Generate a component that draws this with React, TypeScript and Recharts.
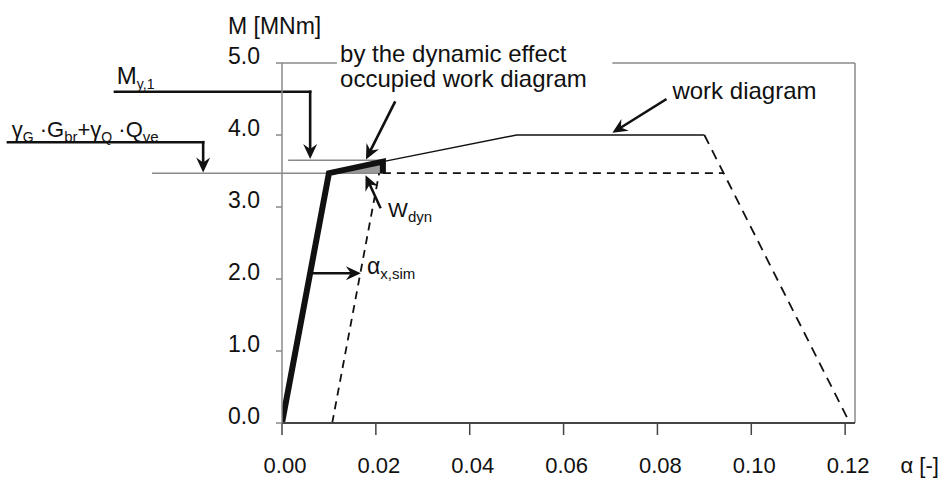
import React from "react";
import {
  ComposedChart,
  Line,
  Area,
  XAxis,
  YAxis,
  ReferenceLine,
  ReferenceDot,
} from "recharts";

const FONT = "'Liberation Sans', Arial, Helvetica, sans-serif";
const INK = "#111";
const GREY = "#8a8a8a";

// axes
const xTicks = [0, 0.02, 0.04, 0.06, 0.08, 0.1, 0.12];
const yTicks = [0, 1, 2, 3, 4, 5];
const X_MAX = 0.1221;
const Y_MAX = 5;

// moment levels
const M_DESIGN = 3.47; // γG·Gbr + γQ·Qve
const M_Y1 = 3.65;

// work diagram (M over α)
const workDiagram = [
  { x: 0, y: 0 },
  { x: 0.01, y: 3.47 },
  { x: 0.0215, y: 3.63 },
  { x: 0.05, y: 4.0 },
  { x: 0.09, y: 4.0 },
];
const softening = [
  { x: 0.09, y: 4.0 },
  { x: 0.121, y: 0 },
];
const designPlateau = [
  { x: 0.0215, y: 3.47 },
  { x: 0.0941, y: 3.47 },
];
const unloading = [
  { x: 0.0107, y: 0 },
  { x: 0.0207, y: 3.47 },
];
// part occupied by the dynamic effect
const dynamicPath = [
  { x: 0, y: 0 },
  { x: 0.01, y: 3.47 },
  { x: 0.0215, y: 3.63 },
  { x: 0.0215, y: 3.47 },
];
const wDyn = [
  { x: 0.01, y: 3.47 },
  { x: 0.0215, y: 3.63 },
];

// thin grey construction lines
const greyLines = [
  { id: "top1", from: [0, Y_MAX], to: [0.0117, Y_MAX] },
  { id: "top2", from: [0.0704, Y_MAX], to: [X_MAX, Y_MAX] },
  { id: "right", from: [X_MAX, 0], to: [X_MAX, Y_MAX] },
  { id: "mdes", from: [-0.0277, M_DESIGN], to: [0.0215, M_DESIGN] },
  { id: "my1", from: [0.0013, M_Y1], to: [0.0215, M_Y1] },
];

// leader arrows, last point is the tip
const leaders = [
  { id: "my1", pts: [[-0.0356, 4.6], [0.006, 4.6], [0.006, 3.665]] },
  { id: "gq", pts: [[-0.0584, 3.9], [-0.0168, 3.9], [-0.0168, 3.48]] },
  { id: "dyn", pts: [[0.024, 4.45], [0.0179, 3.66]] },
  { id: "work", pts: [[0.0817, 4.49], [0.0704, 4.03]] },
  { id: "wdyn", pts: [[0.0209, 3.0], [0.0178, 3.44]] },
  { id: "alpha", pts: [[0.0064, 2.08], [0.0168, 2.08]] },
];

type Part = { t: string; size: number; sub?: boolean };
const labels: { id: string; x: number; y: number; parts: Part[] }[] = [
  { id: "yunit", x: -0.01151, y: 5.403, parts: [{ t: "M [MNm]", size: 23 }] },
  { id: "xunit", x: 0.1318, y: -0.7, parts: [{ t: "α [-]", size: 22 }] },
  { id: "my1", x: -0.0352, y: 4.71, parts: [{ t: "M", size: 24 }, { t: "y,1", size: 14, sub: true }] },
  {
    id: "gq", x: -0.0576, y: 3.972,
    parts: [
      { t: "γ", size: 22 }, { t: "G", size: 14, sub: true }, { t: " ·", size: 22 },
      { t: "G", size: 22 }, { t: "br", size: 15, sub: true }, { t: "+", size: 22 },
      { t: "γ", size: 22 }, { t: "Q", size: 14, sub: true }, { t: " ·", size: 22 },
      { t: "Q", size: 22 }, { t: "ve", size: 15, sub: true },
    ],
  },
  { id: "dyn1", x: 0.01237, y: 5.014, parts: [{ t: "by the dynamic effect", size: 24 }] },
  { id: "dyn2", x: 0.01237, y: 4.667, parts: [{ t: "occupied work diagram", size: 24 }] },
  { id: "work", x: 0.0832, y: 4.5, parts: [{ t: "work diagram", size: 24 }] },
  { id: "wdyn", x: 0.0226, y: 2.861, parts: [{ t: "W", size: 21 }, { t: "dyn", size: 15, sub: true }] },
  { id: "asim", x: 0.01812, y: 2.069, parts: [{ t: "α", size: 23 }, { t: "x,sim", size: 15, sub: true }] },
];

const xTick = (p: any) => (
  <text x={p.x + 3} y={p.y + 38} textAnchor="middle" fontFamily={FONT} fontSize={22} fill={INK}>
    {Number(p.payload.value).toFixed(2)}
  </text>
);

const yTick = (p: any) => (
  <text x={p.x} y={p.y + 1} textAnchor="end" fontFamily={FONT} fontSize={23} fill={INK}>
    {Number(p.payload.value).toFixed(1)}
  </text>
);

const segShape = (head: boolean) => (p: any) => {
  const { x1, y1, x2, y2 } = p;
  if (!head) {
    return <line x1={x1} y1={y1} x2={x2} y2={y2} stroke={INK} strokeWidth={2.6} strokeLinecap="square" />;
  }
  const dx = x2 - x1, dy = y2 - y1;
  const len = Math.hypot(dx, dy) || 1;
  const ux = dx / len, uy = dy / len, nx = -uy, ny = ux;
  const L = 15, W = 7, N = 5;
  const bx = x2 - ux * L, by = y2 - uy * L;
  const ex = x2 - ux * (L - N), ey = y2 - uy * (L - N);
  const pts = `${x2},${y2} ${bx + nx * W},${by + ny * W} ${ex},${ey} ${bx - nx * W},${by - ny * W}`;
  return (
    <g>
      <line x1={x1} y1={y1} x2={ex} y2={ey} stroke={INK} strokeWidth={2.6} strokeLinecap="square" />
      <polygon points={pts} fill={INK} />
    </g>
  );
};

const textShape = (parts: Part[]) => (p: any) => {
  let down = false;
  return (
    <text x={p.cx} y={p.cy} fontFamily={FONT} fill={INK}>
      {parts.map((pt, i) => {
        const dy = pt.sub && !down ? 5 : !pt.sub && down ? -5 : 0;
        down = !!pt.sub;
        return (
          <tspan key={i} fontSize={pt.size} dy={dy}>
            {pt.t}
          </tspan>
        );
      })}
    </text>
  );
};

export default function App() {
  return (
    <div style={{ width: 947, height: 478 }}>
      <style>{`body{margin:0}.recharts-surface{overflow:visible}`}</style>
      <ComposedChart width={947} height={478} margin={{ top: 63, right: 92, bottom: 15, left: 222 }}>
        <XAxis
          type="number"
          dataKey="x"
          domain={[0, X_MAX]}
          ticks={xTicks}
          height={40}
          tickSize={12}
          tickMargin={0}
          axisLine={{ stroke: "#444", strokeWidth: 2 }}
          tickLine={{ stroke: "#444", strokeWidth: 1.5 }}
          tick={xTick}
          allowDataOverflow
        />
        <YAxis
          type="number"
          domain={[0, Y_MAX]}
          ticks={yTicks}
          width={60}
          tickSize={6}
          tickMargin={16}
          axisLine={{ stroke: GREY, strokeWidth: 1.5 }}
          tickLine={{ stroke: GREY, strokeWidth: 1.5 }}
          tick={yTick}
          allowDataOverflow
        />

        {greyLines.map((g) => (
          <ReferenceLine
            key={g.id}
            segment={[{ x: g.from[0], y: g.from[1] }, { x: g.to[0], y: g.to[1] }]}
            stroke={GREY}
            strokeWidth={1.5}
            ifOverflow="visible"
          />
        ))}

        <Area data={wDyn} dataKey="y" type="linear" baseValue={M_DESIGN} fill="#9a9a9a" fillOpacity={1}
          stroke="none" dot={false} activeDot={false} isAnimationActive={false} />
        <Line data={workDiagram} dataKey="y" type="linear" stroke={INK} strokeWidth={1.5}
          dot={false} activeDot={false} isAnimationActive={false} />
        <Line data={softening} dataKey="y" type="linear" stroke={INK} strokeWidth={1.8} strokeDasharray="10 7"
          dot={false} activeDot={false} isAnimationActive={false} />
        <Line data={designPlateau} dataKey="y" type="linear" stroke={INK} strokeWidth={1.8} strokeDasharray="8 6"
          dot={false} activeDot={false} isAnimationActive={false} />
        <Line data={unloading} dataKey="y" type="linear" stroke={INK} strokeWidth={1.8} strokeDasharray="8 6"
          dot={false} activeDot={false} isAnimationActive={false} />
        <Line data={dynamicPath} dataKey="y" type="linear" stroke={INK} strokeWidth={6} strokeLinejoin="miter"
          dot={false} activeDot={false} isAnimationActive={false} />

        {leaders.flatMap((a) =>
          a.pts.slice(1).map((pt, i) => (
            <ReferenceLine
              key={`${a.id}-${i}`}
              segment={[{ x: a.pts[i][0], y: a.pts[i][1] }, { x: pt[0], y: pt[1] }]}
              ifOverflow="visible"
              shape={segShape(i === a.pts.length - 2)}
            />
          ))
        )}

        {labels.map((l) => (
          <ReferenceDot key={l.id} x={l.x} y={l.y} r={0} ifOverflow="visible" shape={textShape(l.parts)} />
        ))}
      </ComposedChart>
    </div>
  );
}
